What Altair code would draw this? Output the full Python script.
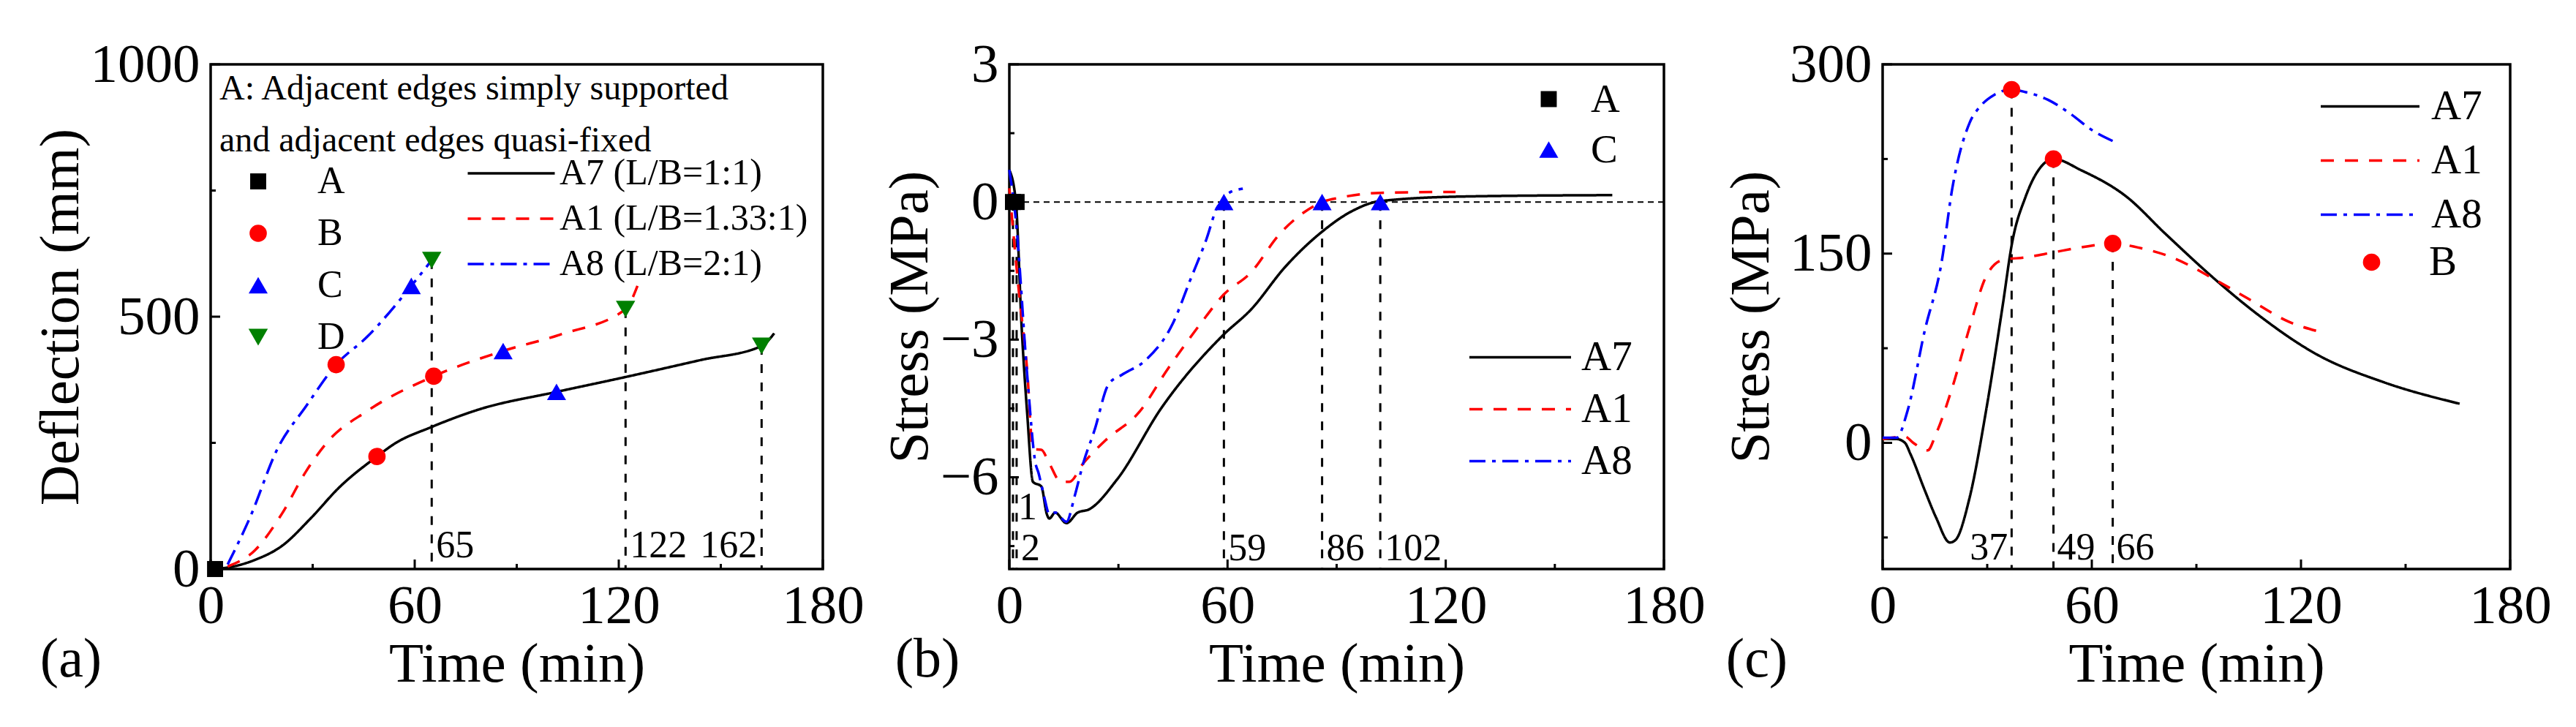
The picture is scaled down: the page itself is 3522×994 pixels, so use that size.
import altair as alt
import pandas as pd

FONT = "Liberation Serif"

# ---------------- values ----------------

# (a) deflection (mm) against time (min)
defl_a7_t = [0, 5, 13, 21, 29.5, 37.7, 48.9, 54, 64.8, 78.8, 101.7, 121, 144, 162, 165.7]
defl_a7_v = [0, 3, 18, 46, 101, 161, 223, 248, 281, 316, 351, 379, 414, 442, 467]
defl_a1_t = [5, 13, 21, 28, 34.5, 46, 65.6, 86, 103, 122, 125.5]
defl_a1_v = [5, 37, 110, 193, 253, 313, 382, 432, 465, 515, 561]
defl_a8_t = [5, 11.5, 19.7, 28, 36.9, 46, 59, 65]
defl_a8_v = [9, 101, 239, 322, 405, 460, 561, 612]

defl_pt_t = [1.3, 36.9, 65.6, 48.9, 59, 86, 101.7, 65, 122, 162]
defl_pt_v = [0, 405, 382, 223, 561, 432, 351, 612, 515, 442]
defl_pt_kind = ["A", "B", "B", "B", "C", "C", "C", "D", "D", "D"]

defl_mark_t = [65, 122, 162]
defl_mark_v = [612, 515, 442]

# (b) concrete stress (MPa) against time (min)
conc_a7_t = [0, 1.8, 3.4, 4.9, 6.5, 8.8, 10.3, 11, 12.6, 15.7, 18.8, 21.9, 29.6, 41.9,
             58.8, 66.5, 75.8, 85.8, 94.2, 102, 125, 165.8]
conc_a7_v = [0.7, 0, -2.75, -4.6, -6.1, -6.2, -6.8, -6.9, -6.77, -7.0, -6.77, -6.7, -6.05,
             -4.48, -2.9, -2.34, -1.42, -0.66, -0.2, 0.02, 0.12, 0.15]
conc_a1_t = [0, 2.6, 4.9, 6.5, 8.8, 11, 14.2, 16.5, 20.3, 26.5, 35.7, 43.4, 52.7, 58.8,
             66.5, 74.2, 83.5, 86, 91.2, 102, 122.7]
conc_a1_v = [0.3, -1.93, -3.66, -5.39, -5.4, -5.7, -6.1, -6.1, -5.7, -5.19, -4.58, -3.66,
             -2.64, -2.03, -1.53, -0.71, -0.1, 0, 0.1, 0.2, 0.22]
conc_a8_t = [0, 1.8, 4.9, 7.2, 8, 9.5, 11, 12.6, 15.7, 18, 20.3, 23.4, 27.3, 31.1, 37.3,
             45, 49.6, 54.2, 57.3, 59, 60.4, 64.2]
conc_a8_v = [0.7, -0.4, -3.76, -5.7, -5.9, -6.4, -6.8, -6.77, -6.97, -6.4, -5.7, -4.98,
             -3.97, -3.76, -3.46, -2.64, -1.73, -0.81, -0.1, 0, 0.2, 0.29]

conc_pt_t = [1, 2, 59, 86, 102]
conc_pt_v = [0, 0, 0, 0, 0]
conc_pt_kind = ["A", "A", "C", "C", "C"]

conc_mark_t = [1, 2, 59, 86, 102]
conc_mark_v = [0, 0, 0, 0, 0]

# (c) steel stress (MPa) against time (min)
steel_a7_t = [0, 4, 6.4, 8, 12, 15.3, 19.3, 20.9, 24.9, 29.7, 34.5, 37.1, 41, 45.8, 49,
              57, 70, 81, 95.6, 107, 124.6, 143.8, 165.5]
steel_a7_v = [3, 3, 0, -9, -37, -59, -79, -77, -44, 26, 110, 158, 195, 220, 225, 216, 195,
              166, 129, 103, 70, 48, 31]
steel_a1_t = [0, 6.4, 8.8, 12.9, 15.3, 20, 25, 29.7, 34.5, 41, 49, 57, 66, 73, 83, 95.6,
              105, 116.5, 125.4]
steel_a1_v = [3, 5, 0, -6, 7, 44, 92, 132, 145, 147, 151, 155, 158, 155, 147, 129, 114,
              96, 88]
steel_a8_t = [0, 4, 7.2, 12, 16.9, 20, 25, 28.1, 32.1, 37, 41, 47.4, 53.8, 60, 66.2]
steel_a8_v = [4, 4, 26, 88, 143, 202, 254, 267, 276, 280, 278, 272, 261, 248, 239]

steel_pt_t = [37, 49, 66]
steel_pt_v = [280, 225, 158]
steel_pt_kind = ["B", "B", "B"]

steel_mark_t = [37, 49, 66]
steel_mark_v = [280, 225, 158]

# axes
time_major = [0, 60, 120, 180]
time_minor = [30, 90, 150]
defl_major = [0, 500, 1000]
defl_minor = [250, 750]
conc_major = [3, 0, -3, -6]
conc_minor = [1.5, -1.5, -4.5, -7.5]
steel_major = [300, 150, 0]
steel_minor = [225, 75, -75]

series_names = ["A7", "A1", "A8"]
series_long = ["A7 (L/B=1:1)", "A1 (L/B=1.33:1)", "A8 (L/B=2:1)"]
panel_tags = ["(a)", "(b)", "(c)"]

# ---------------- styling ----------------

SERIES_COLORS = ["#000000", "#ff0000", "#0000ff"]
SERIES_DASHES = [[1, 0], [18, 15], [22, 9, 5, 9]]
KIND_STYLE = {
    # colour, shape, marker area on the plot
    "A": ("#000000", "square", 480),
    "B": ("#ff0000", "circle", 560),
    "C": ("#0000ff", "triangle-up", 680),
    "D": ("#008000", "triangle-down", 700),
}
H = 690
MAJOR_TICK = 13
MINOR_TICK = 7
TITLE_SIZE = 77
LEGEND_STROKE = "M-3,0H3"  # flat legend line, three times longer than its nominal size


def curves_frame(names, pairs):
    """Long table of the three curves of one panel."""
    rows = []
    for name, (ts, vs) in zip(names, pairs):
        rows += [{"series": name, "t": t, "v": v} for t, v in zip(ts, vs)]
    return pd.DataFrame(rows)


def x_enc():
    return alt.X(
        "t:Q",
        scale=alt.Scale(domain=[0, 180], nice=False, zero=False),
        axis=alt.Axis(
            values=time_major,
            title="Time (min)",
            format="d",
            labelFlush=False,
            labelOverlap=False,
            labelPadding=14,
            titlePadding=4,
        ),
    )


def y_enc(domain, major, title, extent, title_pad):
    return alt.Y(
        "v:Q",
        scale=alt.Scale(domain=domain, nice=False, zero=False),
        axis=alt.Axis(
            values=major,
            title=title,
            format="d",
            labelOverlap=False,
            labelPadding=15,
            minExtent=extent,
            maxExtent=extent,
            titlePadding=title_pad,
        ),
    )


def tick_layers(x, y, major_y, minor_y):
    """Inward ticks on the bottom and left edges."""
    layers = []
    for values, length in ((time_major, MAJOR_TICK), (time_minor, MINOR_TICK)):
        layers.append(alt.Chart(pd.DataFrame({"t": values})).mark_rule(color="black", strokeWidth=3).encode(
            x=x, y=alt.value(H), y2=alt.value(H - length)))
    for values, length in ((major_y, MAJOR_TICK), (minor_y, MINOR_TICK)):
        layers.append(alt.Chart(pd.DataFrame({"v": values})).mark_rule(color="black", strokeWidth=3).encode(
            y=y, x=alt.value(0), x2=alt.value(length)))
    return layers


def line_layer(frame, x, y, domain, legend):
    return alt.Chart(frame).mark_line(strokeWidth=3.5, interpolate="monotone").encode(
        x=x,
        y=y,
        color=alt.Color("series:N", scale=alt.Scale(domain=domain, range=SERIES_COLORS),
                        sort=domain, legend=legend),
        strokeDash=alt.StrokeDash("series:N", scale=alt.Scale(domain=domain, range=SERIES_DASHES),
                                  sort=domain, legend=legend),
        detail="series:N",
    )


def point_layer(frame, x, y, legend):
    kinds = [k for k in KIND_STYLE if k in set(frame["kind"])]
    return alt.Chart(frame).mark_point(filled=True, opacity=1).encode(
        x=x,
        y=y,
        color=alt.Color("kind:N", scale=alt.Scale(domain=kinds, range=[KIND_STYLE[k][0] for k in kinds]),
                        legend=legend),
        shape=alt.Shape("kind:N", scale=alt.Scale(domain=kinds, range=[KIND_STYLE[k][1] for k in kinds]),
                        legend=legend),
        size=alt.Size("kind:N", scale=alt.Scale(type="ordinal", domain=kinds,
                                                range=[KIND_STYLE[k][2] for k in kinds]),
                      legend=None),
    )


def drop_lines(frame, x, y, base):
    return alt.Chart(frame).mark_rule(color="black", strokeWidth=3, strokeDash=[12, 13]).encode(
        x=x, y=y, y2=alt.datum(base))


def mark_labels(frame, x, align, dx, ypix, size=52):
    return alt.Chart(frame).mark_text(
        align=align, baseline="middle", dx=dx, font=FONT, fontSize=size, color="black"
    ).encode(x=x, y=alt.value(ypix), text="label:N")


def tag_layer(tag, xpix):
    return alt.Chart(pd.DataFrame({"tag": [tag]})).mark_text(
        align="center", baseline="middle", font=FONT, fontSize=76, color="black"
    ).encode(x=alt.value(xpix), y=alt.value(H + 124), text="tag:N")


def line_legend(x, y, length, size, offset, row_pad):
    return alt.Legend(
        orient="none", legendX=x, legendY=y, title=None, direction="vertical",
        symbolType=LEGEND_STROKE, symbolSize=(length / 3) ** 2, symbolStrokeWidth=3.5,
        labelFontSize=size, labelOffset=offset, rowPadding=row_pad, labelLimit=800,
    )


def point_legend(x, y, size, offset, row_pad, sym_offset=0, title=None, symbol=450):
    kw = dict(
        orient="none", legendX=x, legendY=y, direction="vertical",
        symbolSize=symbol, labelFontSize=size, labelOffset=offset, rowPadding=row_pad,
        symbolOffset=sym_offset, labelLimit=800, title=title,
    )
    if title is not None:
        kw.update(titleFontSize=48, titleLineHeight=71, titleLimit=1200, titlePadding=5,
                  titleFontWeight="normal")
    return alt.Legend(**kw)


def label_frame(ts, align_right=()):
    return pd.DataFrame({"t": ts, "label": [str(t) for t in ts],
                         "right": [t in align_right for t in ts]})


def finish(layers):
    return alt.layer(*layers).resolve_scale(
        color="independent", shape="independent", strokeDash="independent", size="independent")


# ---------------- panel (a) ----------------
W_A = 837
xa = x_enc()
ya = y_enc([0, 1000], defl_major, "Deflection (mm)", 165, 1)
curves_a = curves_frame(series_long, [(defl_a7_t, defl_a7_v), (defl_a1_t, defl_a1_v),
                                      (defl_a8_t, defl_a8_v)])
pts_a = pd.DataFrame({"t": defl_pt_t, "v": defl_pt_v, "kind": defl_pt_kind})
marks_a = pd.DataFrame({"t": defl_mark_t, "v": defl_mark_v})
labs_a = label_frame(defl_mark_t, align_right=(162,))

panel_a = finish([
    *tick_layers(xa, ya, defl_major, defl_minor),
    drop_lines(marks_a, xa, ya, 0),
    line_layer(curves_a, xa, ya, series_long, line_legend(386, 124, 119, 50, 41, 12)),
    point_layer(pts_a, xa, ya, point_legend(
        12, 10, 52, 55, 19, sym_offset=27,
        title=["A: Adjacent edges simply supported", "and adjacent edges quasi-fixed"],
        symbol=420)),
    mark_labels(labs_a[~labs_a["right"]], xa, "left", 6, H - 32),
    mark_labels(labs_a[labs_a["right"]], xa, "right", -6, H - 32),
    tag_layer(panel_tags[0], -191),
]).properties(width=W_A, height=H)

# ---------------- panel (b) ----------------
W_B = 895
xb = x_enc()
yb = y_enc([-8, 3], conc_major, "Stress (MPa)", 95, 2)
curves_b = curves_frame(series_names, [(conc_a7_t, conc_a7_v), (conc_a1_t, conc_a1_v),
                                       (conc_a8_t, conc_a8_v)])
pts_b = pd.DataFrame({"t": conc_pt_t, "v": conc_pt_v, "kind": conc_pt_kind})
marks_b = pd.DataFrame({"t": conc_mark_t, "v": conc_mark_v})
labs_b = label_frame(conc_mark_t)
raised = labs_b["label"] == "1"

panel_b = finish([
    *tick_layers(xb, yb, conc_major, conc_minor),
    alt.Chart(pd.DataFrame({"v": [0]})).mark_rule(color="black", strokeWidth=2, strokeDash=[8, 6]).encode(
        y=yb),
    drop_lines(marks_b, xb, yb, -8),
    line_layer(curves_b, xb, yb, series_names, line_legend(670, 372, 139, 57, 55, 13)),
    point_layer(pts_b, xb, yb, point_legend(710, 20, 55, 30, 13, symbol=560)),
    mark_labels(labs_b[raised], xb, "left", 7, 606),
    mark_labels(labs_b[~raised], xb, "left", 6, H - 28),
    tag_layer(panel_tags[1], -112),
]).properties(width=W_B, height=H)

# ---------------- panel (c) ----------------
W_C = 858
xc = x_enc()
yc = y_enc([-100, 300], steel_major, "Stress (MPa)", 128, 13)
curves_c = curves_frame(series_names, [(steel_a7_t, steel_a7_v), (steel_a1_t, steel_a1_v),
                                       (steel_a8_t, steel_a8_v)])
pts_c = pd.DataFrame({"t": steel_pt_t, "v": steel_pt_v, "kind": steel_pt_kind})
marks_c = pd.DataFrame({"t": steel_mark_t, "v": steel_mark_v})
labs_c = label_frame(steel_mark_t, align_right=(37,))

panel_c = finish([
    *tick_layers(xc, yc, steel_major, steel_minor),
    drop_lines(marks_c, xc, yc, -100),
    line_layer(curves_c, xc, yc, series_names, line_legend(638, 29, 135, 57, 55, 16)),
    point_layer(pts_c, xc, yc, point_legend(640, 242, 57, 50, 12, symbol=560)),
    mark_labels(labs_c[~labs_c["right"]], xc, "left", 5, H - 29),
    mark_labels(labs_c[labs_c["right"]], xc, "right", -5, H - 29),
    tag_layer(panel_tags[2], -172),
]).properties(width=W_C, height=H)

chart = (
    alt.hconcat(panel_a, panel_b, panel_c, spacing=20)
    .properties(padding={"left": 34, "top": 41, "right": 0, "bottom": 0}, background="white")
    .configure_view(stroke="black", strokeWidth=3.5)
    .configure_axis(
        labelFont=FONT, titleFont=FONT, labelFontSize=75, titleFontSize=TITLE_SIZE,
        titleFontWeight="normal", labelColor="black", titleColor="black",
        grid=False, ticks=False, tickSize=0, domain=False,
    )
    .configure_legend(labelFont=FONT, titleFont=FONT, labelColor="black", titleColor="black",
                      padding=0)
)

chart.save("out.html", embed_options={"renderer": "svg", "actions": False})
